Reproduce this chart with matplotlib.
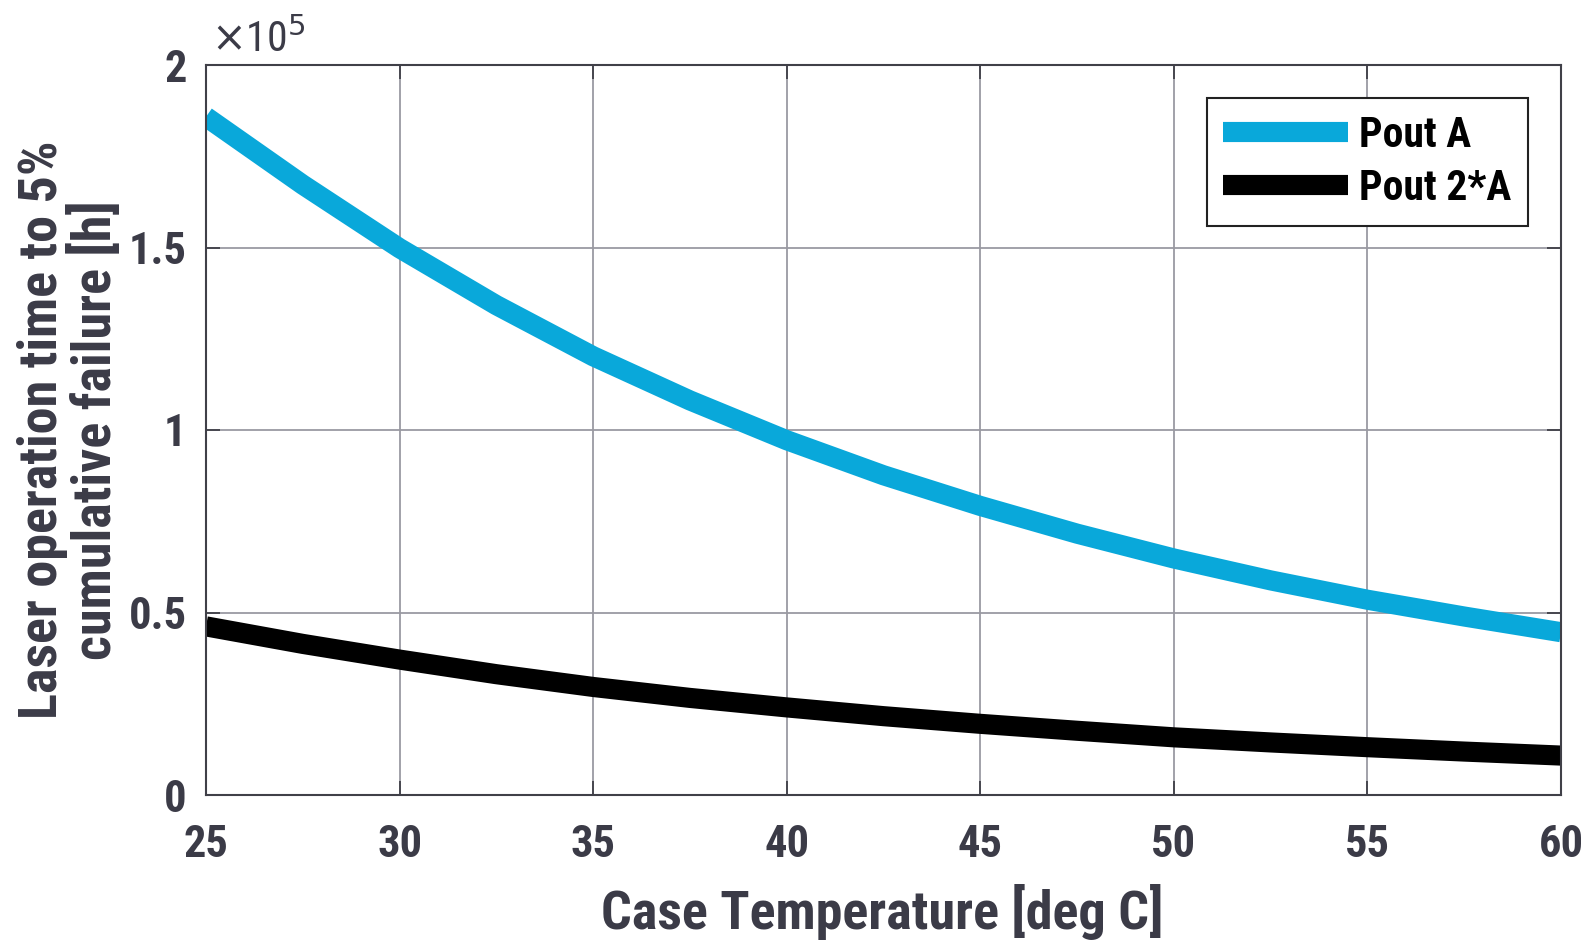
import numpy as np
import matplotlib
matplotlib.use("Agg")
import matplotlib.pyplot as plt
from matplotlib import font_manager

# case temperature [deg C]
temp = [25, 27.5, 30, 32.5, 35, 37.5, 40, 42.5, 45, 47.5, 50, 52.5, 55, 57.5, 60]
# time to 5% cumulative failure, in units of 1e5 hours
pout_a = [1.858, 1.672, 1.498, 1.342, 1.202, 1.081, 0.972, 0.876, 0.792, 0.716, 0.648, 0.588, 0.535, 0.489, 0.446]
pout_2a = [0.462, 0.414, 0.371, 0.331, 0.296, 0.266, 0.240, 0.216, 0.195, 0.176, 0.158, 0.144, 0.131, 0.119, 0.108]

labels = ["Pout A", "Pout 2*A"]
xticks = [25, 30, 35, 40, 45, 50, 55, 60]
yticks = [0, 0.5, 1, 1.5, 2]
ytick_labels = ["0", "0.5", "1", "1.5", "2"]

# pick a narrow family if one is installed
names = set(f.name for f in font_manager.fontManager.ttflist)
narrow = [n for n in ["Roboto Condensed", "Liberation Sans Narrow", "DejaVu Sans Condensed"] if n in names]
font = narrow[:1] + ["Roboto", "DejaVu Sans"]
txt_col = "#3b3b47"

plt.rcParams['font.family'] = font

W, H = 1583, 941
fig = plt.figure(figsize=(W / 100, H / 100), dpi=100)
ax = fig.add_axes([206 / W, 1 - 795 / H, (1561 - 206) / W, (795 - 65) / H])

ax.plot(temp, pout_a, color="#09a8da", lw=14.5, label=labels[0],
        solid_capstyle="butt", solid_joinstyle="round")
ax.plot(temp, pout_2a, color="black", lw=14.5, label=labels[1],
        solid_capstyle="butt", solid_joinstyle="round")

ax.set_xlim(25, 60)
ax.set_ylim(0, 2)
ax.set_xticks(xticks)
ax.set_yticks(yticks)
ax.set_yticklabels(ytick_labels)
ax.grid(True, color="#9a9aa2", lw=1.3)
ax.set_axisbelow(True)

for s in ax.spines.values():
    s.set_color("#404048")
    s.set_linewidth(1.5)

ax.tick_params(direction="in", length=10, width=1.3, color="#404048",
               top=True, right=True, labelsize=32, labelcolor=txt_col)
ax.tick_params(axis="x", pad=21)
ax.tick_params(axis="y", pad=14)
for lab in ax.get_xticklabels() + ax.get_yticklabels():
    lab.set_fontweight("bold")

ax.set_xlabel("Case Temperature [deg C]", fontsize=39, fontweight="bold",
              color=txt_col)
ax.xaxis.set_label_coords(0.499, -0.122)
ax.set_ylabel("Laser operation time to 5%\ncumulative failure [h]", fontsize=39,
              fontweight="bold", color=txt_col, linespacing=1.0, va="center")
ax.yaxis.set_label_coords(-0.101, 0.5)

ax.text(0.004, 1.005, r"$\times$10$^5$", transform=ax.transAxes, fontsize=30,
        color=txt_col, ha="left", va="bottom")

leg = ax.legend(loc="upper right", bbox_to_anchor=(0.9755, 0.955),
                prop={"weight": "bold", "size": 30, "family": font},
                handlelength=3.0, handletextpad=0.25, borderpad=0.4,
                labelspacing=0.3, fancybox=False, framealpha=1, borderaxespad=0)
leg.get_frame().set_edgecolor("#222222")
leg.get_frame().set_linewidth(1.5)

fig.savefig("out.png", dpi=100)
